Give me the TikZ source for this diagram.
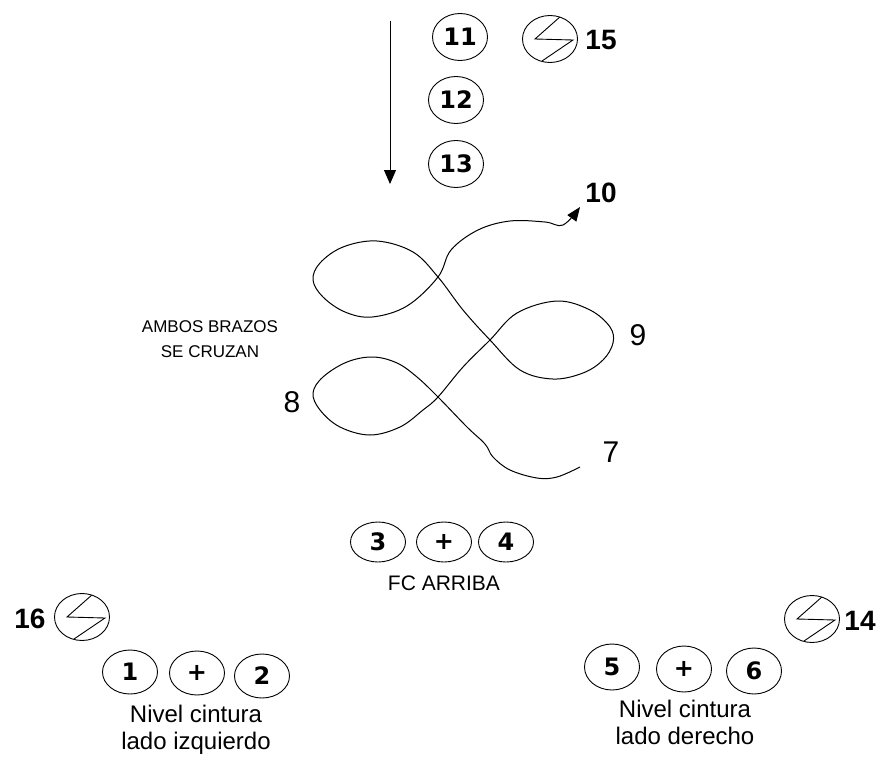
\documentclass[tikz,border=0pt]{standalone}
\usepackage{fontspec}
\setmainfont{Liberation Sans}
\newfontfamily\digfont{DejaVu Sans}
\usetikzlibrary{shapes.geometric,arrows.meta}
\tikzset{
  ell/.style={draw, ellipse, line width=0.9pt, minimum width=55pt, minimum height=47pt, inner sep=0pt, font=\digfont\fontsize{24}{24}\selectfont\bfseries},
  flat/.style={ell, minimum height=40pt},
  symb/.style={ell, path picture={\draw[line width=0.9pt] (path picture bounding box.center) ++(11,-23) -- ++(-26,23) -- ++(38,1) -- ++(-31,21);}},
  bignum/.style={font=\fontsize{28}{28}\selectfont\bfseries, inner sep=0pt},
  curvnum/.style={font=\fontsize{30}{30}\selectfont, inner sep=0pt},
  txt/.style={font=\fontsize{24}{27}\selectfont, align=center, inner sep=0pt},
}
\begin{document}
\begin{tikzpicture}[x=1pt,y=-1pt]
\fill[white] (0,0) rectangle (883,760);
\useasboundingbox (0,0) rectangle (883,760);

% top column
\coordinate (atop) at (390,21);
\coordinate (abot) at (390,184);
\draw[line width=1pt, -{Triangle[length=14pt,width=12pt]}] (atop) -- (abot);
\node[ell] (n11) at (460,37) {11};
\node[ell] (n12) at (456,100) {12};
\node[ell] (n13) at (456,164) {13};
\node[symb] (s15) at (550,39) {};
\node[bignum] (l15) at (601,40) {15};

% loops
\draw[line width=1pt, -{Triangle[length=14pt,width=11pt]}] plot[smooth, tension=0.6] coordinates {
 (580,467) (557,477) (537,478) (510,470) (493,457) (485,444)
 (467,427) (438,397) (417,377) (397,363) (373,357) (347,362) (323,377) (313,393)
 (320,410) (340,427) (370,435) (400,427) (423,410) (438,397)
 (463,367) (490,340) (517,313) (557,301) (590,310) (610,327) (613,343) (603,360)
 (583,373) (553,379) (520,370) (490,340) (463,310) (438,277) (413,252) (377,241)
 (343,247) (320,263) (313,280) (323,297) (345,312) (372,317) (407,306) (438,277)
 (451,250) (478,230) (510,221) (545,222) (563,225) (580,207)};
\node[bignum] (l10) at (601,193) {10};
\node[curvnum] (l9) at (638,335) {9};
\node[curvnum] (l8) at (292,402) {8};
\node[curvnum] (l7) at (611,452) {7};
\node[font=\fontsize{17}{25}\selectfont, align=center, inner sep=0pt] (amb) at (210,339) {AMBOS BRAZOS\\SE CRUZAN};

% FC arriba
\node[flat] (n3) at (378,542) {3};
\node[flat] (pc) at (444,542) {+};
\node[flat] (n4) at (506,542) {4};
\node[font=\fontsize{21}{21}\selectfont, inner sep=0pt] (fc) at (444,583) {FC ARRIBA};

% left
\node[symb] (s16) at (82,617) {};
\node[bignum] (l16) at (30,619) {16};
\node[ell, minimum height=44pt] (n1) at (130,672) {1};
\node[ell, minimum height=44pt] (pl) at (197,673) {+};
\node[ell, minimum height=44pt] (n2) at (262,676) {2};
\node[txt] (tl) at (196,730) {Nivel cintura\\lado izquierdo};

% right
\node[symb] (s14) at (812,619) {};
\node[bignum] (l14) at (860,621) {14};
\node[ell, minimum height=46pt] (n5) at (612,667) {5};
\node[ell, minimum height=46pt] (pr) at (684,669) {+};
\node[ell, minimum height=46pt] (n6) at (754,671) {6};
\node[txt] (tr) at (685,722) {Nivel cintura\\lado derecho};
\end{tikzpicture}
\end{document}
